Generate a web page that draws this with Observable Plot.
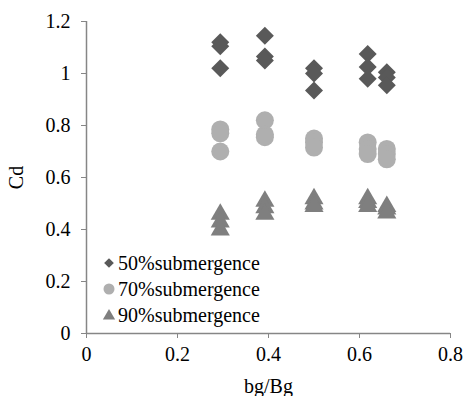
<!DOCTYPE html>
<html><head><meta charset="utf-8">
<script src="https://cdn.jsdelivr.net/npm/d3@7"></script>
<script src="https://cdn.jsdelivr.net/npm/@observablehq/plot@0.6"></script>
<style>
body{margin:0;background:#fff;}
#wrap{position:relative;width:464px;height:396px;font-family:"Liberation Serif","Times New Roman",serif;}
#legend{position:absolute;left:102px;top:250px;font-size:20px;color:#000;}
#legend div{height:26px;line-height:26px;display:flex;align-items:center;}
#legend svg{margin-right:2px;}
</style></head><body><div id="wrap"></div>
<script>
// bg/Bg values (x)
const ratios = [0.294, 0.392, 0.5, 0.618, 0.66];
const seriesNames = ["50%submergence", "70%submergence", "90%submergence"];
// Cd values: three runs per ratio
const cd50 = [[1.12, 1.105, 1.02], [1.145, 1.065, 1.05], [1.02, 1.0, 0.935], [1.075, 1.025, 0.98], [1.005, 0.985, 0.955]];
const cd70 = [[0.785, 0.77, 0.70], [0.82, 0.765, 0.755], [0.75, 0.735, 0.715], [0.735, 0.71, 0.69], [0.71, 0.69, 0.67]];
const cd90 = [[0.47, 0.44, 0.41], [0.52, 0.495, 0.47], [0.53, 0.51, 0.50], [0.53, 0.515, 0.50], [0.50, 0.49, 0.475]];
const xTicks = [0, 0.2, 0.4, 0.6, 0.8];
const yTicks = [0, 0.2, 0.4, 0.6, 0.8, 1, 1.2];

const colors = ["#595959", "#afafaf", "#7f7f7f"];
const symbols = ["diamond2", "circle", "triangle"];

function rows(arr) {
  const out = [];
  arr.forEach((vals, i) => vals.forEach(v => out.push({x: ratios[i], y: v})));
  return out;
}
const d50 = rows(cd50), d70 = rows(cd70), d90 = rows(cd90);
const fmt = d => String(+d.toFixed(2));
const axisColor = "#868686";

const chart = Plot.plot({
  width: 464, height: 396,
  marginLeft: 86, marginRight: 14, marginTop: 21, marginBottom: 63,
  style: {fontFamily: '"Liberation Serif","Times New Roman",serif', fontSize: "20px", color: "#000", background: "#fff"},
  x: {domain: [0, 0.8]},
  y: {domain: [0, 1.2]},
  marks: [
    Plot.axisX({ticks: xTicks, tickFormat: fmt, tickSize: 5, tickPadding: 8, stroke: axisColor, fill: "#000", label: "bg/Bg", labelAnchor: "center", labelOffset: 59, labelArrow: "none"}),
    Plot.axisY({ticks: yTicks, tickFormat: fmt, tickSize: 5, tickPadding: 11, stroke: axisColor, fill: "#000", label: "Cd", labelAnchor: "center", labelOffset: 78, labelArrow: "none"}),
    Plot.ruleX([0], {stroke: axisColor, strokeWidth: 1.5}),
    Plot.ruleY([0], {stroke: axisColor, strokeWidth: 1.5}),
    Plot.dot(d50, {x: "x", y: "y", symbol: symbols[0], r: 8.1, fill: colors[0], stroke: "none"}),
    Plot.dot(d70, {x: "x", y: "y", symbol: symbols[1], r: 9, fill: colors[1], stroke: "none"}),
    Plot.dot(d90, {x: "x", y: "y", symbol: symbols[2], r: 7.1, fill: colors[2], stroke: "none", dy: 3})
  ]
});
const wrap = document.getElementById("wrap");
wrap.appendChild(chart);

// legend
const legend = document.createElement("div");
legend.id = "legend";
const legendPaths = [
  d3.symbol(d3.symbolDiamond2, 60)(),
  d3.symbol(d3.symbolCircle, 95)(),
  d3.symbol(d3.symbolTriangle, 65)()
];
seriesNames.forEach((name, i) => {
  const row = document.createElement("div");
  row.innerHTML = `<svg width="14" height="14" viewBox="-7 -7 14 14"><path d="${legendPaths[i]}" fill="${colors[i]}" transform="translate(0,${i === 2 ? 1 : 0})"/></svg><span>${name}</span>`;
  legend.appendChild(row);
});
wrap.appendChild(legend);
</script>
</body></html>
